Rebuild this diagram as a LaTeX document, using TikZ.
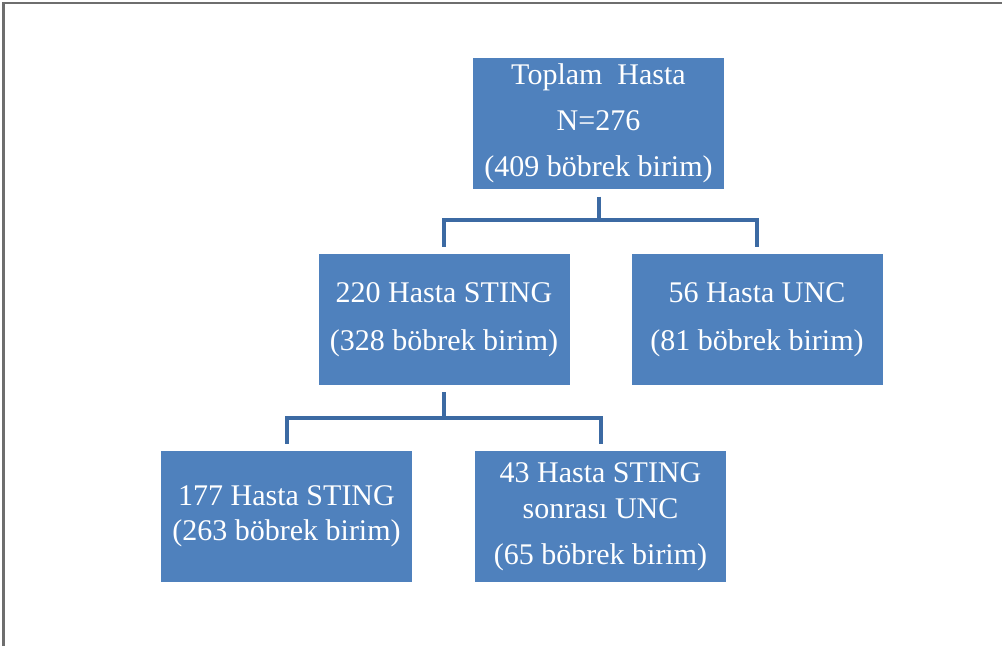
\documentclass[tikz,border=0pt]{standalone}
\usepackage{fontspec}
\setmainfont{Liberation Serif}
\definecolor{boxblue}{HTML}{4F81BD}
\definecolor{lineblue}{HTML}{3C6AA3}
\definecolor{framegray}{HTML}{6E6E6E}
\begin{document}
\begin{tikzpicture}[x=1pt,y=-1pt,
  box/.style={fill=boxblue,draw=none,minimum width=251pt,minimum height=131pt,
    text=white,align=center,inner sep=0pt,font=\fontsize{30}{46}\selectfont},
  conn/.style={draw=lineblue,line width=4pt}]
\useasboundingbox (0,0) rectangle (1002,646);
\draw[framegray,line width=2.5pt] (3.5,646) -- (3.5,3) -- (1002,3);
\node[box] (top) at (598.5,123) {Toplam\ \ Hasta\\N=276\\(409 böbrek birim)};
\node[box,font=\fontsize{30}{48}\selectfont] (ml) at (444,319.5) {220 Hasta STING\\(328 böbrek birim)};
\node[box,font=\fontsize{30}{48}\selectfont] (mr) at (757,319.5) {56 Hasta UNC\\(81 böbrek birim)};
\node[box,font=\fontsize{30}{35}\selectfont] (bl) at (286.5,516.5) {177 Hasta STING\\(263 böbrek birim)};
\node[box,font=\fontsize{30}{36}\selectfont] (br) at (600.5,516.5) {43 Hasta STING\\sonrası UNC\\[10pt](65 böbrek birim)};
\coordinate (j1) at (598.5,220);
\coordinate (j2) at (444,418);
\draw[conn] ([yshift=-8pt]top.south) -- (j1);
\draw[conn] ([yshift=7pt]ml.north) -- (ml.north |- j1) -- (mr.north |- j1) -- ([yshift=7pt]mr.north);
\draw[conn] ([yshift=-7pt]ml.south) -- (j2);
\draw[conn] ([yshift=7pt]bl.north) -- (bl.north |- j2) -- (br.north |- j2) -- ([yshift=7pt]br.north);
\end{tikzpicture}
\end{document}
